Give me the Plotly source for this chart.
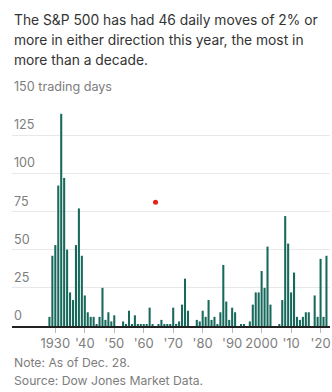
import plotly.graph_objects as go

# Number of trading days with an S&P 500 move of 2% or more, by year
years = list(range(1928, 2023))
days = [
    6, 46, 53, 92, 139, 97, 50, 22, 17, 53,      # 1928-1937
    77, 46, 20, 9, 6, 6, 1, 6, 25, 4,            # 1938-1947
    9, 3, 7, 0, 0, 3, 1, 10, 1, 7,               # 1948-1957
    1, 1, 1, 1, 12, 1, 0, 1, 4, 1,               # 1958-1967
    1, 1, 12, 1, 3, 14, 31, 10, 0, 0,            # 1968-1977
    4, 3, 10, 6, 17, 4, 6, 1, 9, 40,             # 1978-1987
    16, 4, 12, 9, 0, 1, 1, 0, 3, 14,             # 1988-1997
    22, 22, 36, 25, 52, 14, 0, 0, 1, 17,         # 1998-2007
    72, 54, 22, 35, 6, 4, 6, 9, 9, 0,            # 2008-2017
    20, 6, 44, 6, 46,                            # 2018-2022
]

x_tick_vals = [1930, 1940, 1950, 1960, 1970, 1980, 1990, 2000, 2010, 2020]
x_tick_text = ["1930", "'40", "'50", "'60", "'70", "'80", "'90", "2000", "'10", "'20"]
y_tick_vals = [0, 25, 50, 75, 100, 125, 150]
y_tick_text = ["0", "25", "50", "75", "100", "125", "150 trading days"]

marker_x = [1964]
marker_y = [81]

title_lines = [
    "The S&P 500 has had 46 daily moves of 2% or",
    "more in either direction this year, the most in",
    "more than a decade.",
]
note_lines = ["Note: As of Dec. 28.", "Source: Dow Jones Market Data."]

FONT = "Inter"
BAR = "#17695c"
GREY = "#7d7d7d"

PLOT_H = 229.0  # plot area height in px (top 97, bottom 326)


def paper_y(px):
    """Convert a pixel row of the page to paper coordinates."""
    return (326.0 - px) / PLOT_H


fig = go.Figure()
fig.add_trace(go.Bar(
    x=years, y=days,
    marker=dict(color=BAR, line=dict(width=0)),
    hoverinfo="skip",
))
fig.add_trace(go.Scatter(
    x=marker_x, y=marker_y, mode="markers",
    marker=dict(color="#e5231b", size=5),
    hoverinfo="skip",
))

annotations = []
for v, t in zip(y_tick_vals, y_tick_text):
    annotations.append(dict(
        x=0, xref="paper", y=v, yref="y", text=t, showarrow=False,
        xanchor="left", yanchor="bottom", yshift=1,
        font=dict(family=FONT, size=12.6, color=GREY),
    ))
for i, line in enumerate(title_lines):
    annotations.append(dict(
        x=0, xref="paper", y=paper_y(20 + 20 * i), yref="paper", text=line,
        showarrow=False, xanchor="left", yanchor="middle", align="left",
        font=dict(family=FONT, size=13.8, color="#333333"),
    ))
for i, line in enumerate(note_lines):
    annotations.append(dict(
        x=0, xref="paper", y=paper_y(362 + 18 * i), yref="paper", text=line,
        showarrow=False, xanchor="left", yanchor="middle", align="left",
        font=dict(family=FONT, size=12.2, color=GREY),
    ))

fig.update_layout(
    width=332, height=392,
    margin=dict(l=12, r=2, t=97, b=66),
    paper_bgcolor="white", plot_bgcolor="white",
    showlegend=False,
    bargap=0.3,
    annotations=annotations,
    xaxis=dict(
        range=[1915.3, 2023.2],
        tickvals=x_tick_vals, ticktext=x_tick_text,
        showgrid=False, zeroline=False,
        showline=True, linecolor="#222222", linewidth=1.5,
        ticks="outside", ticklen=5, tickcolor="#bbbbbb", tickwidth=1,
        tickfont=dict(family=FONT, size=13, color=GREY),
        fixedrange=True,
    ),
    yaxis=dict(
        range=[0, 150],
        tickvals=y_tick_vals, showticklabels=False,
        showgrid=True, gridcolor="#e8e8e8", gridwidth=1,
        zeroline=False, showline=False, ticks="",
        fixedrange=True,
    ),
)

fig.write_html("out.html", config={"displayModeBar": False})
